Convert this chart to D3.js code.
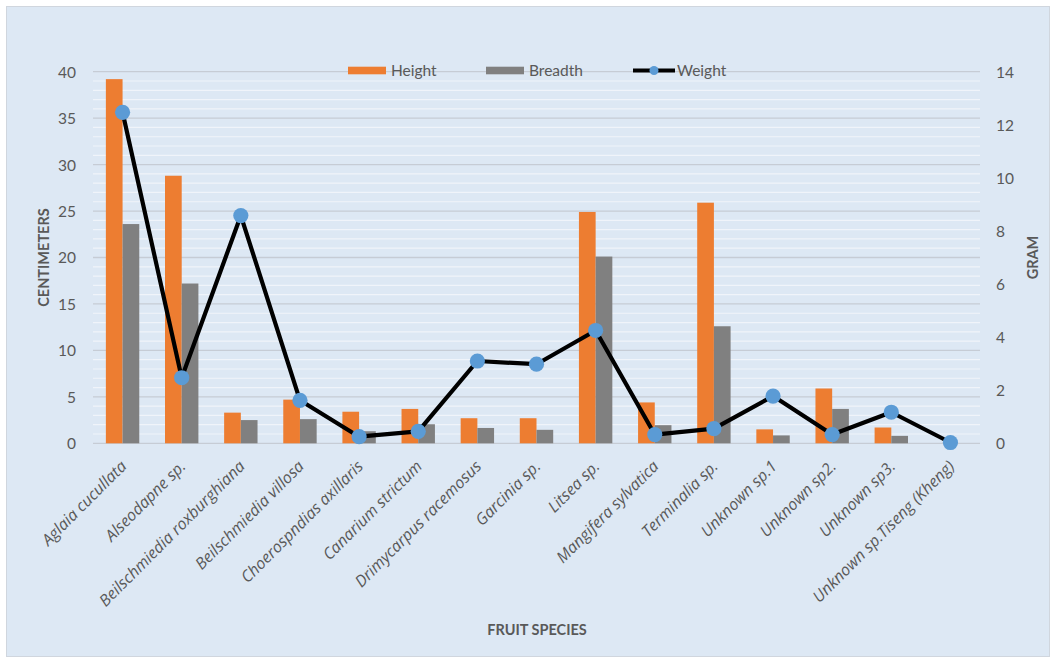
<!DOCTYPE html>
<html>
<head>
<meta charset="utf-8">
<script src="https://cdn.jsdelivr.net/npm/d3@7"></script>
<style>
  html, body { margin: 0; padding: 0; background: #ffffff; }
  svg { display: block; }
  text { font-family: Lato, "Open Sans", sans-serif; }
  text.cat { font-family: "Open Sans", sans-serif; font-style: italic; }
</style>
</head>
<body>
<svg id="chart" width="1055" height="662"></svg>
<script>
// Fruit measurements per species
const species = [
  "Aglaia cucullata", "Alseodapne sp.", "Beilschmiedia roxburghiana", "Beilschmiedia villosa",
  "Choerospndias axillaris", "Canarium strictum", "Drimycarpus racemosus", "Garcinia sp.",
  "Litsea sp.", "Mangifera sylvatica", "Terminalia sp.", "Unknown sp.1",
  "Unknown sp2.", "Unknown sp3.", "Unknown sp.Tiseng (Kheng)"
];
const height  = [39.2, 28.8, 3.3, 4.7, 3.4, 3.7, 2.7, 2.7, 24.9, 4.4, 25.9, 1.5, 5.9, 1.7, 0];
const breadth = [23.6, 17.2, 2.5, 2.6, 1.3, 2.05, 1.65, 1.45, 20.1, 1.95, 12.6, 0.85, 3.7, 0.8, 0];
const weight  = [12.47, 2.47, 8.58, 1.62, 0.25, 0.45, 3.1, 2.98, 4.25, 0.33, 0.55, 1.78, 0.33, 1.17, 0.03];

const leftTicks  = [0, 5, 10, 15, 20, 25, 30, 35, 40];
const rightTicks = [0, 2, 4, 6, 8, 10, 12, 14];
const minorTicks = d3.range(0, 41, 1);

const seriesNames = ["Height", "Breadth", "Weight"];
const colors = { Height: "#ed7d31", Breadth: "#808080", Weight: "#5b9bd5" };

const svg = d3.select("#chart");
const W = 1055, H = 662;
const plot = { left: 93, right: 980, top: 71.7, bottom: 443.3 };

// chart area background and border
svg.append("rect")
  .attr("x", 6.5).attr("y", 6.5)
  .attr("width", W - 12).attr("height", H - 12)
  .attr("fill", "#dde8f4").attr("stroke", "#d0d6de").attr("stroke-width", 1);

const x = d3.scaleBand().domain(species).range([plot.left, plot.right]).paddingInner(0).paddingOuter(0);
const sub = d3.scaleBand().domain(["Height", "Breadth"]).range([0, 33.4]);
const barOffset = (x.bandwidth() - 33.4) / 2;
const yL = d3.scaleLinear().domain([0, 40]).range([plot.bottom, plot.top]);
const yR = d3.scaleLinear().domain([0, 14]).range([plot.bottom, plot.top]);

// minor gridlines
svg.append("g").selectAll("line")
  .data(minorTicks.filter(d => d % 5 !== 0))
  .join("line")
  .attr("x1", plot.left).attr("x2", plot.right)
  .attr("y1", d => yL(d)).attr("y2", d => yL(d))
  .attr("stroke", "#f0f4fa").attr("stroke-width", 1.2);

// major gridlines
svg.append("g").selectAll("line")
  .data(leftTicks)
  .join("line")
  .attr("x1", plot.left).attr("x2", plot.right)
  .attr("y1", d => yL(d)).attr("y2", d => yL(d))
  .attr("stroke", "#c6ccd5").attr("stroke-width", 1.3);

// left axis
const axisL = d3.axisLeft(yL).tickValues(leftTicks).tickSize(0).tickPadding(0);
const gL = svg.append("g").attr("transform", `translate(${plot.left - 17},0)`).call(axisL);
gL.select(".domain").remove();
gL.selectAll("text").attr("font-size", 15.5).attr("fill", "#595959").attr("dy", "0.35em");

// right axis
const axisR = d3.axisRight(yR).tickValues(rightTicks).tickSize(0).tickPadding(0);
const gR = svg.append("g").attr("transform", `translate(${plot.right + 16},0)`).call(axisR);
gR.select(".domain").remove();
gR.selectAll("text").attr("font-size", 15.5).attr("fill", "#595959").attr("dy", "0.35em");

// bars
const rows = species.map((s, i) => ({ s, Height: height[i], Breadth: breadth[i] }));
const gBars = svg.append("g");
["Height", "Breadth"].forEach(key => {
  gBars.selectAll(`rect.${key}`)
    .data(rows)
    .join("rect")
    .attr("class", key)
    .attr("x", d => x(d.s) + barOffset + sub(key))
    .attr("width", sub.bandwidth())
    .attr("y", d => yL(d[key]))
    .attr("height", d => yL(0) - yL(d[key]))
    .attr("fill", colors[key]);
});

// weight line with markers
const pts = species.map((s, i) => ({ s, w: weight[i] }));
const line = d3.line().x(d => x(d.s) + x.bandwidth() / 2).y(d => yR(d.w));
svg.append("path").datum(pts)
  .attr("d", line).attr("fill", "none")
  .attr("stroke", "#000").attr("stroke-width", 4.2).attr("stroke-linejoin", "round");
svg.append("g").selectAll("circle").data(pts).join("circle")
  .attr("cx", d => x(d.s) + x.bandwidth() / 2)
  .attr("cy", d => yR(d.w))
  .attr("r", 7.6)
  .attr("fill", colors.Weight);

// category labels
const gX = svg.append("g");
gX.selectAll("text").data(species).join("text")
  .attr("class", "cat")
  .attr("transform", d => `translate(${x(d) + x.bandwidth() / 2 + 5},${plot.bottom + 24}) rotate(-45)`)
  .attr("text-anchor", "end")
  .attr("font-size", 16)
  .attr("fill", "#595959")
  .text(d => d);

// axis titles
svg.append("text")
  .attr("transform", `translate(49,${(plot.top + plot.bottom) / 2}) rotate(-90)`)
  .attr("text-anchor", "middle").attr("font-weight", "bold")
  .attr("font-size", 14.5).attr("fill", "#595959")
  .text("CENTIMETERS");
svg.append("text")
  .attr("transform", `translate(1038,${(plot.top + plot.bottom) / 2}) rotate(-90)`)
  .attr("text-anchor", "middle").attr("font-weight", "bold")
  .attr("font-size", 14.5).attr("fill", "#595959")
  .text("GRAM");
svg.append("text")
  .attr("x", 537).attr("y", 635)
  .attr("text-anchor", "middle").attr("font-weight", "bold")
  .attr("font-size", 14.5).attr("fill", "#595959")
  .text("FRUIT SPECIES");

// legend
const legendPos = { Height: 348, Breadth: 486, Weight: 633 };
const gLeg = svg.append("g");
seriesNames.forEach(name => {
  const lx = legendPos[name], ly = 70.5;
  if (name === "Weight") {
    gLeg.append("line").attr("x1", lx).attr("x2", lx + 42).attr("y1", ly).attr("y2", ly)
      .attr("stroke", "#000").attr("stroke-width", 4.2);
    gLeg.append("circle").attr("cx", lx + 21).attr("cy", ly).attr("r", 4.5).attr("fill", colors.Weight);
  } else {
    gLeg.append("rect").attr("x", lx).attr("y", ly - 3.8).attr("width", 38).attr("height", 7.6)
      .attr("fill", colors[name]);
  }
  gLeg.append("text")
    .attr("x", lx + (name === "Weight" ? 44 : 43)).attr("y", ly).attr("dy", "0.35em")
    .attr("font-size", 15.5).attr("fill", "#595959")
    .text(name);
});
</script>
</body>
</html>
